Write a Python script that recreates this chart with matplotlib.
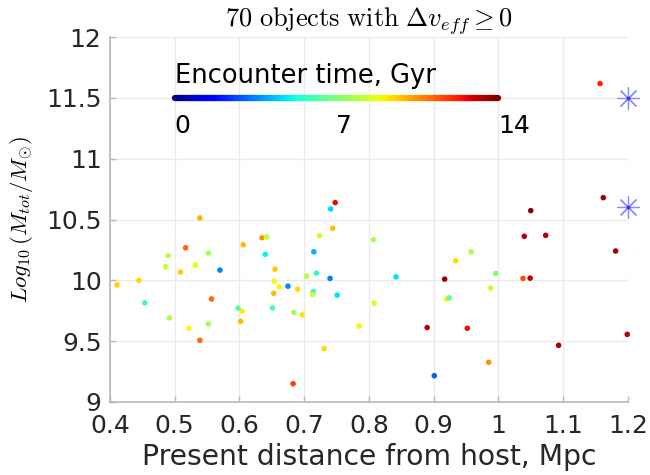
import numpy as np
import matplotlib
matplotlib.use("Agg")
import matplotlib.pyplot as plt
from matplotlib.collections import LineCollection

plt.rcParams['mathtext.fontset'] = 'cm'
plt.rcParams['font.family'] = ['DejaVu Sans']

# Present distance from host, Mpc
distance = [0.411, 0.445, 0.454, 0.490, 0.486, 0.492, 0.517, 0.509, 0.532, 0.552,
            0.522, 0.552, 0.539, 0.557, 0.570, 0.606, 0.635, 0.642, 0.640, 0.655,
            0.654, 0.662, 0.653, 0.598, 0.604, 0.602, 0.651, 0.539, 0.748, 0.741,
            0.744, 0.724, 0.807, 0.715, 0.675, 0.690, 0.704, 0.719, 0.740, 0.714,
            0.713, 0.751, 0.684, 0.697, 0.842, 0.808, 0.785, 0.731, 0.683, 0.917,
            0.890, 0.901, 0.920, 0.924, 1.162, 1.050, 1.040, 1.073, 1.181, 0.958,
            0.934, 0.996, 1.038, 1.049, 0.988, 0.952, 1.199, 1.093, 0.985, 1.157]
# log10 total mass
logmass = [9.963, 10.000, 9.815, 10.202, 10.111, 9.691, 10.268, 10.068, 10.125, 10.224,
           9.606, 9.641, 9.507, 9.847, 10.084, 10.293, 10.350, 10.356, 10.214, 10.092,
           9.993, 9.946, 9.894, 9.771, 9.746, 9.664, 9.773, 10.513, 10.639, 10.587,
           10.428, 10.367, 10.334, 10.235, 9.952, 9.927, 10.035, 10.059, 10.016, 9.908,
           9.884, 9.878, 9.735, 9.716, 10.029, 9.812, 9.625, 9.439, 9.150, 10.010,
           9.612, 9.216, 9.845, 9.856, 10.680, 10.573, 10.362, 10.370, 10.241, 10.235,
           10.161, 10.057, 10.016, 10.018, 9.936, 9.606, 9.556, 9.466, 9.326, 11.618]
# Encounter time, Gyr
enc_time = [9.6, 9.5, 5.9, 8.0, 8.3, 7.8, 11.3, 9.7, 8.9, 7.8,
            9.0, 7.8, 11.2, 11.2, 3.6, 9.9, 10.6, 8.1, 5.1, 9.7,
            9.0, 9.0, 9.9, 6.3, 9.2, 9.9, 6.0, 10.1, 12.6, 4.7,
            9.9, 8.3, 7.8, 4.2, 3.6, 9.5, 8.0, 5.6, 3.5, 5.6,
            8.3, 4.9, 7.5, 9.4, 4.9, 8.6, 9.0, 9.5, 11.8, 13.6,
            13.3, 3.1, 9.0, 6.5, 13.6, 13.8, 13.3, 13.3, 13.6, 7.9,
            9.5, 7.0, 11.6, 13.3, 8.5, 12.6, 13.3, 13.6, 10.6, 12.2]

# Host reference markers
host_x = [1.2, 1.2]
host_y = [11.5, 10.6]

xticks = [0.4, 0.5, 0.6, 0.7, 0.8, 0.9, 1.0, 1.1, 1.2]
xticklabels = ['0.4', '0.5', '0.6', '0.7', '0.8', '0.9', '1', '1.1', '1.2']
yticks = [9, 9.5, 10, 10.5, 11, 11.5, 12]
yticklabels = ['9', '9.5', '10', '10.5', '11', '11.5', '12']

cbar_ticks = [0, 7, 14]
tmin, tmax = 0, 14

fig = plt.figure(figsize=(6.5, 4.75), dpi=100)
ax = fig.add_axes([0.169, 0.1537, 0.797, 0.7683])
cmap = plt.get_cmap('jet')
norm = plt.Normalize(tmin, tmax)

ax.set_xlim(0.4, 1.2)
ax.set_ylim(9, 12)
ax.set_xticks(xticks)
ax.set_xticklabels(xticklabels)
ax.set_yticks(yticks)
ax.set_yticklabels(yticklabels)
ax.grid(True, color='#ebebeb', linewidth=1.0)
ax.set_axisbelow(True)
for s in ['top', 'right']:
    ax.spines[s].set_visible(False)
for s in ['left', 'bottom']:
    ax.spines[s].set_color('#b8b8b8')
    ax.spines[s].set_linewidth(1.2)
ax.tick_params(direction='in', length=4, width=1, color='#b8b8b8',
               labelsize=18, labelcolor='#262626')
ax.tick_params(axis='x', pad=9)
ax.tick_params(axis='y', pad=6)

ax.scatter(distance, logmass, c=enc_time, cmap=cmap, norm=norm, s=16,
           linewidths=0, zorder=3, clip_on=False)

ax.plot(host_x, host_y, linestyle='none', marker=(8, 2, 0), markersize=16,
        markeredgecolor='#8c8cff', markeredgewidth=0.9, zorder=4, clip_on=False)
ax.plot(host_x, host_y, linestyle='none', marker='o', markersize=2.5,
        color='#3030ff', markeredgewidth=0, zorder=5, clip_on=False)

# Inset colour bar drawn as a thick coloured line
bx0, bx1, by = 0.5, 1.0, 11.5
tvals = np.linspace(tmin, tmax, 200)
xs = bx0 + (tvals - tmin) / (tmax - tmin) * (bx1 - bx0)
pts = np.column_stack([xs, np.full_like(xs, by)])
segs = np.stack([pts[:-1], pts[1:]], axis=1)
lc = LineCollection(segs, colors=cmap(norm(tvals[:-1])), linewidths=4.5,
                    capstyle='round', zorder=4)
ax.add_collection(lc)
ax.text(bx0, 11.625, 'Encounter time, Gyr', fontsize=18.5, ha='left',
        va='baseline', color='black', zorder=5)
for t in cbar_ticks:
    xp = bx0 + (t - tmin) / (tmax - tmin) * (bx1 - bx0)
    ax.text(xp, 11.21, str(t), fontsize=18, ha='left', va='baseline',
            color='black', zorder=5)

ax.set_title(r'$\mathrm{70\ objects\ with\ }\Delta v_{eff} \geq 0$',
             fontsize=19, pad=6)
ax.set_xlabel('Present distance from host, Mpc', fontsize=20.3, color='#262626',
              labelpad=3)
ax.set_ylabel(r'$Log_{10}\,(M_{tot}/M_{\odot})$', fontsize=16.5, labelpad=8)

fig.savefig('out.png', dpi=100)
